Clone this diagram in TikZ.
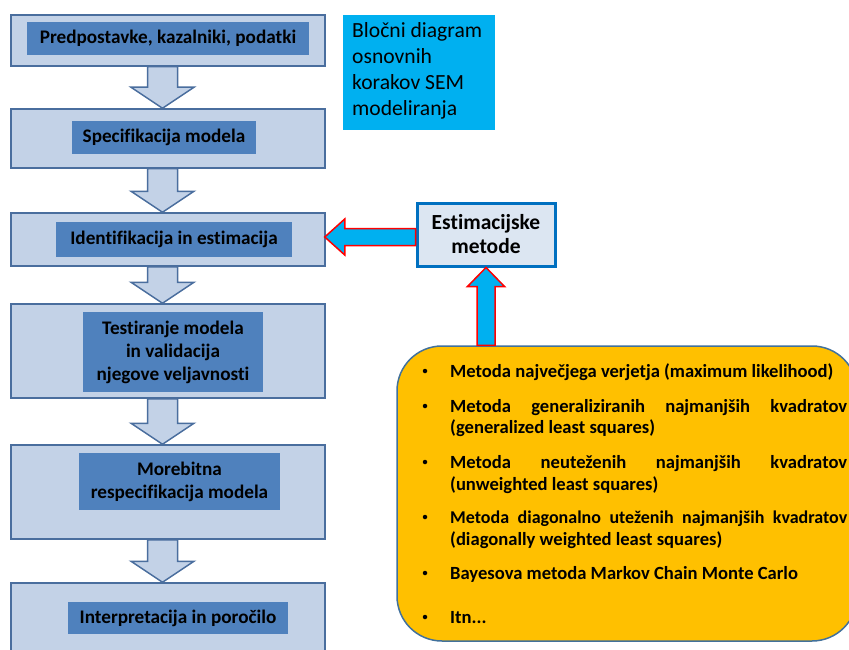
\documentclass[tikz,border=0pt]{standalone}
\usepackage{fontspec}
\setmainfont{Carlito}[Ligatures=CommonOff]
\usetikzlibrary{calc}
\definecolor{outerfill}{HTML}{C3D2E7}
\definecolor{outerline}{HTML}{4A6E9E}
\definecolor{innerfill}{HTML}{4F81BD}
\definecolor{skyfill}{HTML}{00B0F0}
\definecolor{estfill}{HTML}{DCE6F2}
\definecolor{estline}{HTML}{0070C0}
\definecolor{goldfill}{HTML}{FFC000}
\definecolor{goldline}{HTML}{41719C}

% block arrow pointing down from the bottom of #1 to the top of #2
\newcommand\blockdown[2]{%
  \path (axis |- #1.south) coordinate (bs) (axis |- #2.north) coordinate (bt);
  \draw[downarr] ($(bs)+(-15,0)$) -- ($(bs)+(15,0)$) -- ($(bt)+(15,-21)$)
    -- ($(bt)+(31.5,-21)$) -- (bt) -- ($(bt)+(-31.5,-21)$) -- ($(bt)+(-15,-21)$) -- cycle;}

\begin{document}
\begin{tikzpicture}[x=1pt,y=-1pt,
  outer/.style={draw=outerline, fill=outerfill, line width=1.5pt, minimum width=314pt, inner sep=0pt},
  inner/.style={fill=innerfill, inner sep=0pt, font=\bfseries\fontsize{19.2}{23}\selectfont, align=center},
  downarr/.style={draw=outerline, fill=outerfill, line width=1.5pt, line join=miter},
  redarr/.style={draw=red, fill=skyfill, line width=1.5pt, line join=miter},
  itemtext/.style={anchor=base west, inner sep=0pt, font=\bfseries\fontsize{18.6}{22}\selectfont},
  bul/.style={circle, fill=black, inner sep=0pt, minimum size=4.5pt}
]
\useasboundingbox (0,0) rectangle (849,650);
\clip (0,0) rectangle (849,650);
\fill[white] (0,0) rectangle (849,650);

% left column: steps
\node[outer, minimum height=51pt] (o1) at (168,40.5) {};
\node[outer, minimum height=59pt] (o2) at (168,138.5) {};
\node[outer, minimum height=53pt] (o3) at (168,239.5) {};
\node[outer, minimum height=94pt] (o4) at (168,351) {};
\node[outer, minimum height=94pt] (o5) at (168,492) {};
\node[outer, minimum height=100pt] (o6) at (168,633) {};

\node[inner, minimum width=282pt, minimum height=33pt] (s1) at (168,38.5) {Predpostavke, kazalniki, podatki};
\node[inner, minimum width=184pt, minimum height=33pt] (s2) at (164,137.5) {Specifikacija modela};
\node[inner, minimum width=236pt, minimum height=35pt] (s3) at (174,239.5) {Identifikacija in estimacija};
\node[inner, minimum width=180pt, minimum height=80pt] (s4) at (173,352) {Testiranje modela\\in validacija\\njegove veljavnosti};
\node[inner, minimum width=201pt, minimum height=57pt] (s5) at (179.5,481.5) {Morebitna\\respecifikacija modela};
\node[inner, minimum width=220pt, minimum height=32pt] (s6) at (178,618) {Interpretacija in poročilo};

\coordinate (axis) at (162.5,0);
\blockdown{o1}{o2}
\blockdown{o2}{o3}
\blockdown{o3}{o4}
\blockdown{o4}{o5}
\blockdown{o5}{o6}

% title box
\node[fill=skyfill, minimum width=152pt, minimum height=115pt, inner sep=0pt] (title) at (419,72.5) {};
\node[anchor=north west, inner sep=0pt, align=left, font=\fontsize{21.6}{26}\selectfont] (titletext) at (352,22)
  {Bločni diagram\\osnovnih\\korakov SEM\\modeliranja};

% estimation methods box
\node[draw=estline, fill=estfill, line width=3pt, minimum width=138pt, minimum height=63pt,
      inner sep=0pt, align=center, font=\bfseries\fontsize{21.5}{24}\selectfont] (est) at (486,234.5)
  {Estimacijske\\metode};

% list of methods
\node[draw=goldline, fill=goldfill, line width=1.5pt, rounded corners=45pt,
      minimum width=460pt, minimum height=295pt, inner sep=0pt] (methods) at (627,493.5) {};

% arrow from the list up to the estimation box
\draw[redarr] ($(est.south |- methods.north)+(-9,0)$) -- ($(est.south)+(-9,19)$)
  -- ($(est.south)+(-18.5,19)$) -- (est.south) -- ($(est.south)+(18.5,19)$)
  -- ($(est.south)+(9,19)$) -- ($(est.south |- methods.north)+(9,0)$) -- cycle;

% arrow from the estimation box to the identification step
\coordinate (ltip) at ($(o3.east |- est.west)+(-1,2.5)$);
\draw[redarr] ($(est.west)+(0,-6)$) -- ($(ltip)+(20,-8.5)$) -- ($(ltip)+(20,-18)$)
  -- (ltip) -- ($(ltip)+(20,18)$) -- ($(ltip)+(20,8.5)$) -- ($(est.west)+(0,11)$) -- cycle;

% bullets and items
\node[bul] (d1) at (425,371) {};
\node[bul] (d2) at (425,406) {};
\node[bul] (d3) at (425,462) {};
\node[bul] (d4) at (425,517) {};
\node[bul] (d5) at (425,573) {};
\node[bul] (d6) at (425,617) {};

\node[itemtext] (m1) at (450,377) {Metoda največjega verjetja (maximum likelihood)};
\node[itemtext] (m2a) at (450,412) {\hbox to 397pt{Metoda\hfill generaliziranih\hfill najmanjših\hfill kvadratov}};
\node[itemtext] (m2b) at (450,433) {(generalized least squares)};
\node[itemtext] (m3a) at (450,468) {\hbox to 397pt{Metoda\hfill neuteženih\hfill najmanjših\hfill kvadratov}};
\node[itemtext] (m3b) at (450,490) {(unweighted least squares)};
\node[itemtext] (m4a) at (450,523) {\hbox to 397pt{\fontsize{18}{22}\selectfont Metoda\hfill diagonalno\hfill uteženih\hfill najmanjših\hfill kvadratov}};
\node[itemtext] (m4b) at (450,545) {(diagonally weighted least squares)};
\node[itemtext] (m5) at (450,579) {Bayesova metoda Markov Chain Monte Carlo};
\node[itemtext] (m6) at (450,623) {Itn...};
\end{tikzpicture}
\end{document}
